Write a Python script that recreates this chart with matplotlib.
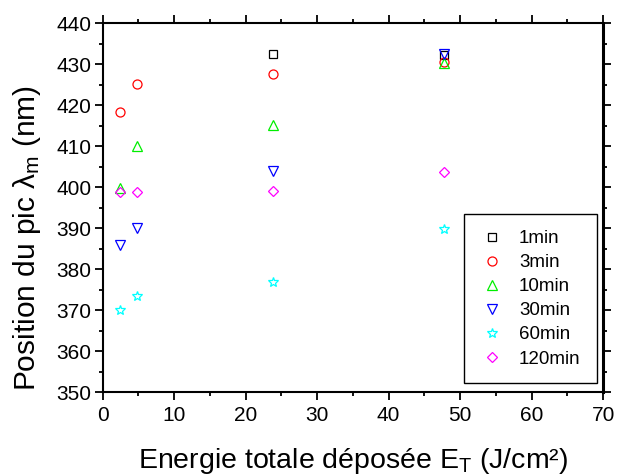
import matplotlib.pyplot as plt

plt.rcParams['font.family'] = ['Liberation Sans', 'DejaVu Sans']
plt.rcParams['mathtext.fontset'] = 'custom'
plt.rcParams['mathtext.rm'] = 'Liberation Sans'
plt.rcParams['mathtext.default'] = 'regular'

# data
labels = ["1min", "3min", "10min", "30min", "60min", "120min"]
x_1 = [23.8, 47.7]
y_1 = [432.5, 432.2]
x_all = [2.4, 4.8, 23.8, 47.7]
y_3 = [418.4, 425.1, 427.6, 430.6]
y_10 = [399.9, 410.1, 415.2, 430.4]
y_30 = [385.9, 390.1, 404.0, 432.6]
y_60 = [370.0, 373.6, 377.0, 389.8]
y_120 = [398.8, 398.9, 399.2, 403.8]

colors = ["#000000", "#ff0000", "#00ee00", "#0000ff", "#00ffff", "#ff00ff"]
markers = ["s", "o", "^", "v", "*", "D"]
sizes = [5.5, 6.5, 7.5, 7.5, 7, 5.5]

xs = [x_1, x_all, x_all, x_all, x_all, x_all]
ys = [y_1, y_3, y_10, y_30, y_60, y_120]

fig = plt.figure(figsize=(6.18, 4.75), dpi=100)
ax = fig.add_axes([0.166, 0.174, 0.81, 0.777])
for x, y, c, m, s, lab in zip(xs, ys, colors, markers, sizes, labels):
    ax.plot(x, y, ls="none", marker=m, ms=s, mfc="none", mec=c, mew=0.9, label=lab)

ax.set_xlim(0, 70)
ax.set_ylim(350, 440)
ax.set_xticks(range(0, 71, 10))
ax.set_yticks(range(350, 441, 10))
ax.set_xticks(range(5, 70, 10), minor=True)
ax.set_yticks(range(355, 440, 10), minor=True)
ax.tick_params(which="both", direction="out", top=True, right=True, width=1.3, labelsize=15)
ax.tick_params(axis="x", pad=4)
ax.tick_params(axis="y", pad=2)
ax.tick_params(which="major", length=6)
ax.tick_params(which="minor", length=3)
for sp in ax.spines.values():
    sp.set_linewidth(1.5)
ax.spines["right"].set_linewidth(2.2)

ax.set_xlabel("Energie totale déposée E$_T$ (J/cm²)", fontsize=20.5)
ax.set_ylabel("Position du pic λ$_m$ (nm)", fontsize=21.5)
ax.xaxis.set_label_coords(0.5, -0.205, transform=ax.transAxes)
ax.yaxis.set_label_coords(-0.151, 0.418, transform=ax.transAxes)
ax.xaxis.label.set_va("baseline")
ax.yaxis.label.set_va("center")

leg = ax.legend(loc="lower right", bbox_to_anchor=(0.987, 0.024), fontsize=13.5,
                fancybox=False, edgecolor="black", framealpha=1,
                labelspacing=0.37, handletextpad=0.8, borderpad=0.85, handlelength=1.3,
                borderaxespad=0)
leg.get_frame().set_linewidth(1.0)

fig.savefig("out.png", dpi=100)
